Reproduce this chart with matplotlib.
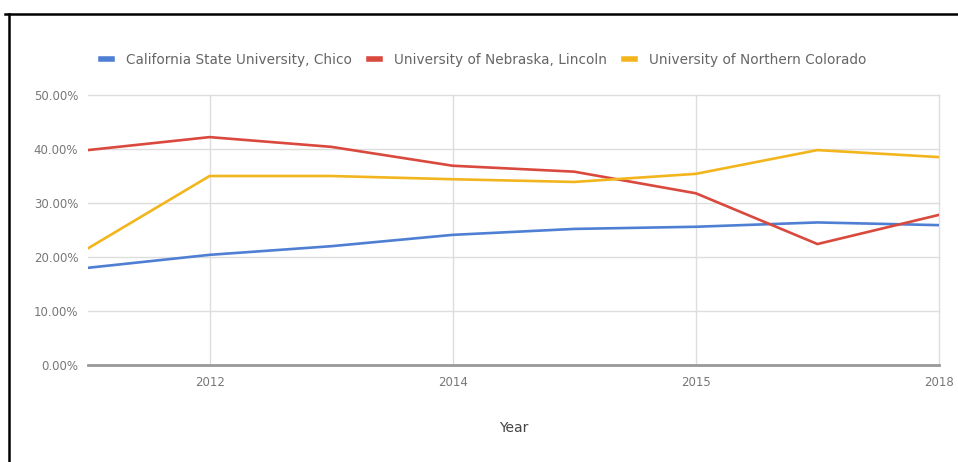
import matplotlib.pyplot as plt
from matplotlib.lines import Line2D

# Данные
years = ["2011", "2012", "2013", "2014", "2015", "2016", "2017", "2018"]
chico = [18.0, 20.4, 22.0, 24.1, 25.2, 25.6, 26.4, 25.9]
nebraska = [39.8, 42.2, 40.4, 36.9, 35.8, 31.8, 22.4, 27.8]
northern_colorado = [21.6, 35.0, 35.0, 34.4, 33.9, 35.4, 39.8, 38.5]
x_tick_labels = ["2012", "2014", "2015", "2018"]
y_ticks = [0, 10, 20, 30, 40, 50]

series = [
    ("California State University, Chico", chico, "#4f7fd3"),
    ("University of Nebraska, Lincoln", nebraska, "#d9493d"),
    ("University of Northern Colorado", northern_colorado, "#f2b51d"),
]

fig = plt.figure(figsize=(9.58, 4.62), dpi=100)
ax = fig.add_axes([88 / 958, 1 - 365 / 462, (939 - 88) / 958, (365 - 95) / 462])

x = list(range(len(years)))
for label, values, color in series:
    ax.plot(x, values, color=color, linewidth=1.9, label=label, zorder=3)

ax.set_xlim(0, len(years) - 1)
ax.set_ylim(0, 50)
ax.set_yticks(y_ticks)
ax.set_yticklabels([f"{v:.2f}%" for v in y_ticks])
ax.set_xticks([1, 3, 5, 7])
ax.set_xticklabels(x_tick_labels)
ax.tick_params(length=0, colors="#777777", labelsize=8.5)
ax.tick_params(axis="y", pad=7)
ax.tick_params(axis="x", pad=8)

ax.grid(True, color="#dddddd", linewidth=1)
for gl in ax.get_xgridlines() + ax.get_ygridlines():
    gl.set_clip_on(False)
ax.set_axisbelow(True)
for side in ["top", "right", "left"]:
    ax.spines[side].set_visible(False)
ax.spines["bottom"].set_color("#999999")
ax.spines["bottom"].set_linewidth(2)

ax.set_xlabel("Year", color="#444444", fontsize=10, labelpad=23)

fig.legend(
    loc="center",
    bbox_to_anchor=(0.505, 1 - 60 / 462),
    ncol=3,
    frameon=False,
    fontsize=9.8,
    handlelength=0.8,
    handletextpad=1.0,
    columnspacing=1.3,
    labelcolor="#666666",
)
for h in fig.legends[0].legend_handles:
    h.set_linewidth(4)

# Рамка
fig.add_artist(Line2D([5 / 958, 1], [1 - 14 / 462] * 2, color="black", linewidth=1.8))
fig.add_artist(Line2D([9 / 958] * 2, [0, 1 - 14 / 462], color="black", linewidth=1.8))

fig.savefig("out.png", dpi=100)
